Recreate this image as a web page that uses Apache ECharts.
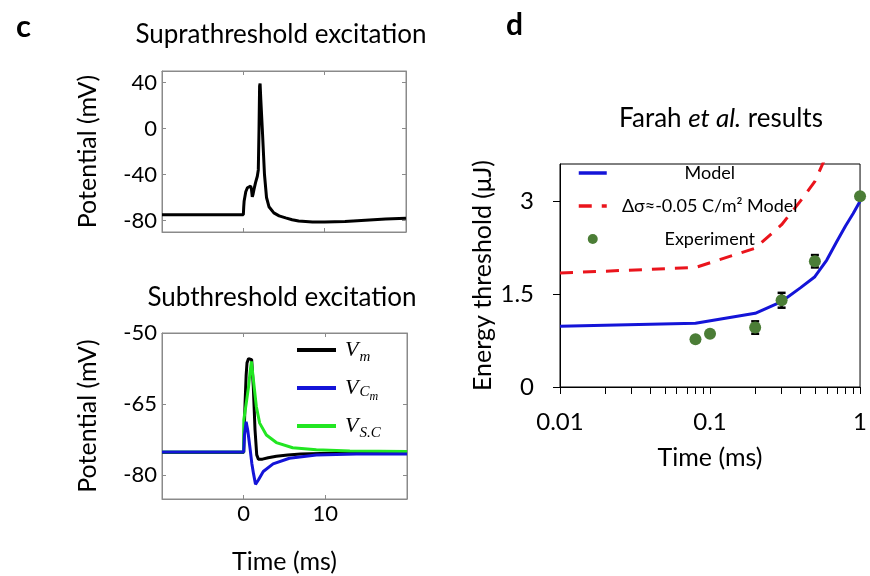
<!DOCTYPE html>
<html><head><meta charset="utf-8">
<script src="https://cdn.jsdelivr.net/npm/echarts@6/dist/echarts.min.js"></script>
<style>html,body{margin:0;padding:0;background:#fff}#chart{width:870px;height:576px}</style>
</head><body><div id="chart"></div>
<script>
// ---- Panel c (top): suprathreshold excitation ----
const supraT = [-10, 0, 0.05, 0.1, 0.3, 0.5, 0.7, 0.9, 1.0, 1.1, 1.2, 1.31, 1.5, 1.72, 1.84, 1.93, 2.0, 2.06, 2.15, 2.33, 2.6, 2.85, 3.15, 3.75, 4.4, 5.2, 6.0, 6.8, 8.5, 10, 12.5, 15, 17.5, 20];
const supraV = [-75, -75, -68, -63, -55, -51.5, -50, -50, -53, -59.5, -57, -53, -47, -41.5, -36, 0, 37, 39, 25, 0, -40, -60, -68, -73.4, -76, -77.7, -79.3, -80.4, -81.2, -81.3, -80.8, -79.8, -78.8, -78];
const supraYTicks = [-80, -40, 0, 40];

// ---- Panel c (bottom): subthreshold excitation ----
const vmT = [-10, 0, 0.08, 0.17, 0.3, 0.41, 0.6, 0.82, 0.98, 1.18, 1.39, 1.6, 1.8, 2.3, 3.0, 4.0, 5.4, 7, 9.4, 13, 20];
const vmV = [-75.2, -75.2, -70, -64.8, -59, -56.3, -55.4, -55.1, -55.6, -61.3, -70.4, -75.7, -76.6, -76.6, -76.3, -76, -75.7, -75.5, -75.4, -75.3, -75.3];
const vscT = [-10, 0, 0.02, 0.3, 0.6, 0.8, 0.95, 1.15, 1.55, 1.96, 2.78, 4.0, 6.0, 8.9, 13, 20];
const vscV = [-75.1, -75.1, -68.3, -65, -61.3, -58, -56, -59.2, -65.5, -69, -71.5, -73.1, -74.2, -74.6, -74.9, -75.0];
const vcmT = [-10, 0, 0.1, 0.3, 0.5, 0.8, 1.0, 1.2, 1.45, 1.8, 2.4, 3.6, 5.6, 8.9, 13.8, 20];
const vcmV = [-75.1, -75.1, -71.5, -68.7, -70.5, -74.6, -77.5, -79.6, -81.9, -81, -79.2, -77.6, -76.4, -75.7, -75.5, -75.5];
const subYTicks = [-80, -65, -50];
const subXLabels = [0, 10];

// ---- Panel d: Farah et al. results ----
const modelT = [0.01, 0.08, 0.2, 0.3, 0.4, 0.5, 0.6, 0.7, 0.8, 0.9, 1.0];
const modelE = [0.98, 1.03, 1.19, 1.38, 1.6, 1.78, 2.05, 2.35, 2.6, 2.8, 3.0];
const shiftT = [0.01, 0.08, 0.2, 0.3, 0.4, 0.5, 0.6];
const shiftE = [1.84, 1.93, 2.24, 2.62, 3.0, 3.32, 3.75];
const expT = [0.08, 0.1, 0.2, 0.3, 0.5, 1.0];
const expE = [0.77, 0.86, 0.96, 1.4, 2.03, 3.08];
const expErr = [0, 0, 0.1, 0.12, 0.1, 0];
const dYTicks = [0, 1.5, 3];
const dXLabels = [0.01, 0.1, 1];
const dXTicks = [0.01,0.02,0.03,0.04,0.05,0.06,0.07,0.08,0.09,0.1,0.2,0.3,0.4,0.5,0.6,0.7,0.8,0.9,1];

const zip = (a, b) => a.map((v, i) => [v, b[i]]);
const FONT = 'Lato';
const GRAY = '#8a8a8a';
const C_BLACK = '#000000', C_BLUE = '#1414d8', C_GREEN = '#22e622', C_RED = '#ea141c', C_DOT = '#4b7d36';

function cX(grid, pos, labels) {
  return {
    type: 'value', gridIndex: grid, position: pos, min: -10, max: 20, interval: 10,
    axisLine: {show: true, onZero: false, lineStyle: {color: GRAY, width: 1}},
    axisTick: {show: true, inside: true, length: 4, lineStyle: {color: GRAY}},
    splitLine: {show: false},
    axisLabel: labels ? {show: true, customValues: labels, fontSize: 22, color: '#000', fontFamily: FONT, margin: 4} : {show: false}
  };
}
function cY(grid, pos, min, max, ticks, labels) {
  return {
    type: 'value', gridIndex: grid, position: pos, min: min, max: max,
    axisLine: {show: true, onZero: false, lineStyle: {color: GRAY, width: 1}},
    axisTick: {show: true, inside: true, length: 4, customValues: ticks, lineStyle: {color: GRAY}},
    splitLine: {show: false},
    axisLabel: labels ? {show: true, customValues: ticks, fontSize: 22, color: '#000', fontFamily: FONT, margin: 5} : {show: false}
  };
}
const nameStyle = {fontSize: 25, fontFamily: FONT, color: '#000'};

const sub = {fontFamily: 'Liberation Serif', fontStyle: 'italic', color: '#000'};
const hideDot = {opacity: 0};
const chart = echarts.init(document.getElementById('chart'), null, {renderer: 'canvas'});
const option = {
  animation: false,
  backgroundColor: '#fff',
  textStyle: {fontFamily: FONT},
  title: [
    {text: 'c', left: 11, top: 6, textStyle: {fontSize: 31, fontWeight: 'bold', fontFamily: FONT, color: '#000'}},
    {text: 'd', left: 501, top: 5, textStyle: {fontSize: 30, fontWeight: 'bold', fontFamily: FONT, color: '#000'}},
    {text: 'Suprathreshold excitation', left: 276, textAlign: 'center', top: 17, textStyle: {fontSize: 26, fontWeight: 'normal', fontFamily: FONT, color: '#000'}},
    {text: 'Subthreshold excitation', left: 277, textAlign: 'center', top: 280, textStyle: {fontSize: 26, fontWeight: 'normal', fontFamily: FONT, color: '#000'}},
    {text: '{n|Farah }{i|et al.}{n| results}', left: 716, textAlign: 'center', top: 101,
     textStyle: {fontWeight: 'normal', rich: {n: {fontSize: 26, fontWeight: 'normal', fontFamily: FONT, color: '#000'}, i: {fontSize: 26, fontWeight: 'normal', fontFamily: FONT, fontStyle: 'italic', color: '#000'}}}}
  ],
  grid: [
    {left: 162, top: 71, width: 244, height: 161, show: true, borderColor: GRAY, borderWidth: 1},
    {left: 162, top: 333, width: 245, height: 166, show: true, borderColor: GRAY, borderWidth: 1},
    {left: 560, top: 164, width: 308, height: 223, show: true, borderColor: '#000', borderWidth: 1}
  ],
  xAxis: [
    cX(0, 'bottom', null),
    cX(0, 'top', null),
    Object.assign(cX(1, 'bottom', subXLabels), {name: 'Time (ms)', nameLocation: 'middle', nameGap: 50, nameTextStyle: nameStyle}),
    cX(1, 'top', null),
    {
      type: 'log', logBase: 10, gridIndex: 2, min: 0.01, max: 1,
      axisLine: {show: true, onZero: false, lineStyle: {color: '#000', width: 1}},
      axisTick: {show: true, inside: false, length: 7, customValues: dXTicks, lineStyle: {color: '#000'}},
      minorTick: {show: false},
      splitLine: {show: false},
      axisLabel: {show: true, customValues: dXLabels, fontSize: 24, color: '#000', fontFamily: FONT, margin: 23, formatter: v => String(v)},
      name: 'Time (ms)', nameLocation: 'middle', nameGap: 58, nameTextStyle: nameStyle
    }
  ],
  yAxis: [
    Object.assign(cY(0, 'left', -90, 50, supraYTicks, true), {name: 'Potential (mV)', nameLocation: 'middle', nameGap: 62, nameTextStyle: nameStyle}),
    cY(0, 'right', -90, 50, supraYTicks, false),
    Object.assign(cY(1, 'left', -85, -50, subYTicks, true), {name: 'Potential (mV)', nameLocation: 'middle', nameGap: 62, nameTextStyle: nameStyle}),
    cY(1, 'right', -85, -50, subYTicks, false),
    {
      type: 'value', gridIndex: 2, min: 0, max: 3.6,
      axisLine: {show: true, onZero: false, lineStyle: {color: '#000', width: 1}},
      axisTick: {show: true, inside: false, length: 7, customValues: dYTicks, lineStyle: {color: '#000'}},
      splitLine: {show: false},
      axisLabel: {show: true, customValues: dYTicks, fontSize: 24, color: '#000', fontFamily: FONT, margin: 26},
      name: 'Energy threshold (μJ)', nameLocation: 'middle', nameGap: 65, nameTextStyle: nameStyle
    }
  ],
  legend: [
    {
      orient: 'vertical', left: 295, top: 339, padding: 0, itemWidth: 39, itemHeight: 4, itemGap: 12,
      lineStyle: {width: 4},
      data: [{name: 'Vm', itemStyle: hideDot}, {name: 'VCm', itemStyle: hideDot}, {name: 'VSC', itemStyle: hideDot}],
      selectedMode: false,
      formatter: n => n === 'Vm' ? '{v|V}{s|m}' : (n === 'VCm' ? '{v|V}{c|C}{ss|m}' : '{v|V}{s|S.C}'),
      textStyle: {rich: {
        v: Object.assign({fontSize: 22, lineHeight: 30, verticalAlign: 'middle', padding: [0, 1, 0, 4]}, sub),
        s: Object.assign({fontSize: 15, lineHeight: 15, verticalAlign: 'bottom'}, sub),
        c: Object.assign({fontSize: 15, lineHeight: 15, verticalAlign: 'bottom', padding: [0, 0, 3, 0]}, sub),
        ss: Object.assign({fontSize: 12, lineHeight: 12, verticalAlign: 'bottom'}, sub)
      }}
    },
    {
      orient: 'vertical', left: 577, top: 164, padding: 0, itemWidth: 28, itemHeight: 10, itemGap: 15,
      lineStyle: {width: 3.5},
      data: [{name: 'Model', itemStyle: hideDot}, {name: 'Δσ≈-0.05 C/m² Model', itemStyle: hideDot}, 'Experiment'],
      selectedMode: false,
      formatter: n => '{a|' + n + '}',
      textStyle: {rich: {a: {width: 196, align: 'center', fontSize: 18, lineHeight: 20, fontFamily: FONT, color: '#000'}}}
    }
  ],
  series: [
    {type: 'line', name: 'supra', xAxisIndex: 0, yAxisIndex: 0, data: zip(supraT, supraV), symbol: 'none',
     lineStyle: {color: C_BLACK, width: 3}, itemStyle: {color: C_BLACK}},
    {type: 'line', name: 'Vm', xAxisIndex: 2, yAxisIndex: 2, data: zip(vmT, vmV), symbol: 'none',
     lineStyle: {color: C_BLACK, width: 3}, itemStyle: {color: C_BLACK}},
    {type: 'line', name: 'VSC', xAxisIndex: 2, yAxisIndex: 2, data: zip(vscT, vscV), symbol: 'none',
     lineStyle: {color: C_GREEN, width: 3}, itemStyle: {color: C_GREEN}},
    {type: 'line', name: 'VCm', xAxisIndex: 2, yAxisIndex: 2, data: zip(vcmT, vcmV), symbol: 'none',
     lineStyle: {color: C_BLUE, width: 3}, itemStyle: {color: C_BLUE}},
    {type: 'line', name: 'Model', xAxisIndex: 4, yAxisIndex: 4, data: zip(modelT, modelE), symbol: 'none',
     lineStyle: {color: C_BLUE, width: 3}, itemStyle: {color: C_BLUE}},
    {type: 'line', name: 'Δσ≈-0.05 C/m² Model', xAxisIndex: 4, yAxisIndex: 4, data: zip(shiftT, shiftE), symbol: 'none', clip: true,
     lineStyle: {color: C_RED, width: 3, type: [13, 10]}, itemStyle: {color: C_RED}},
    {type: 'custom', name: 'err', xAxisIndex: 4, yAxisIndex: 4, z: 3,
     data: expT.map((t, i) => [t, expE[i] - expErr[i], expE[i] + expErr[i]]).filter(d => d[2] > d[1]),
     encode: {x: 0, y: [1, 2]},
     renderItem: (params, api) => {
       const lo = api.coord([api.value(0), api.value(1)]);
       const hi = api.coord([api.value(0), api.value(2)]);
       const w = 4, st = {stroke: '#000', lineWidth: 2.5};
       return {type: 'group', children: [
         {type: 'line', shape: {x1: lo[0], y1: lo[1], x2: hi[0], y2: hi[1]}, style: st},
         {type: 'line', shape: {x1: lo[0] - w, y1: lo[1], x2: lo[0] + w, y2: lo[1]}, style: st},
         {type: 'line', shape: {x1: hi[0] - w, y1: hi[1], x2: hi[0] + w, y2: hi[1]}, style: st}
       ]};
     }},
    {type: 'scatter', name: 'Experiment', xAxisIndex: 4, yAxisIndex: 4, z: 4, clip: false,
     data: zip(expT, expE), symbol: 'circle', symbolSize: 12, itemStyle: {color: C_DOT, opacity: 1}}
  ]
};
chart.setOption(option);
</script></body></html>
